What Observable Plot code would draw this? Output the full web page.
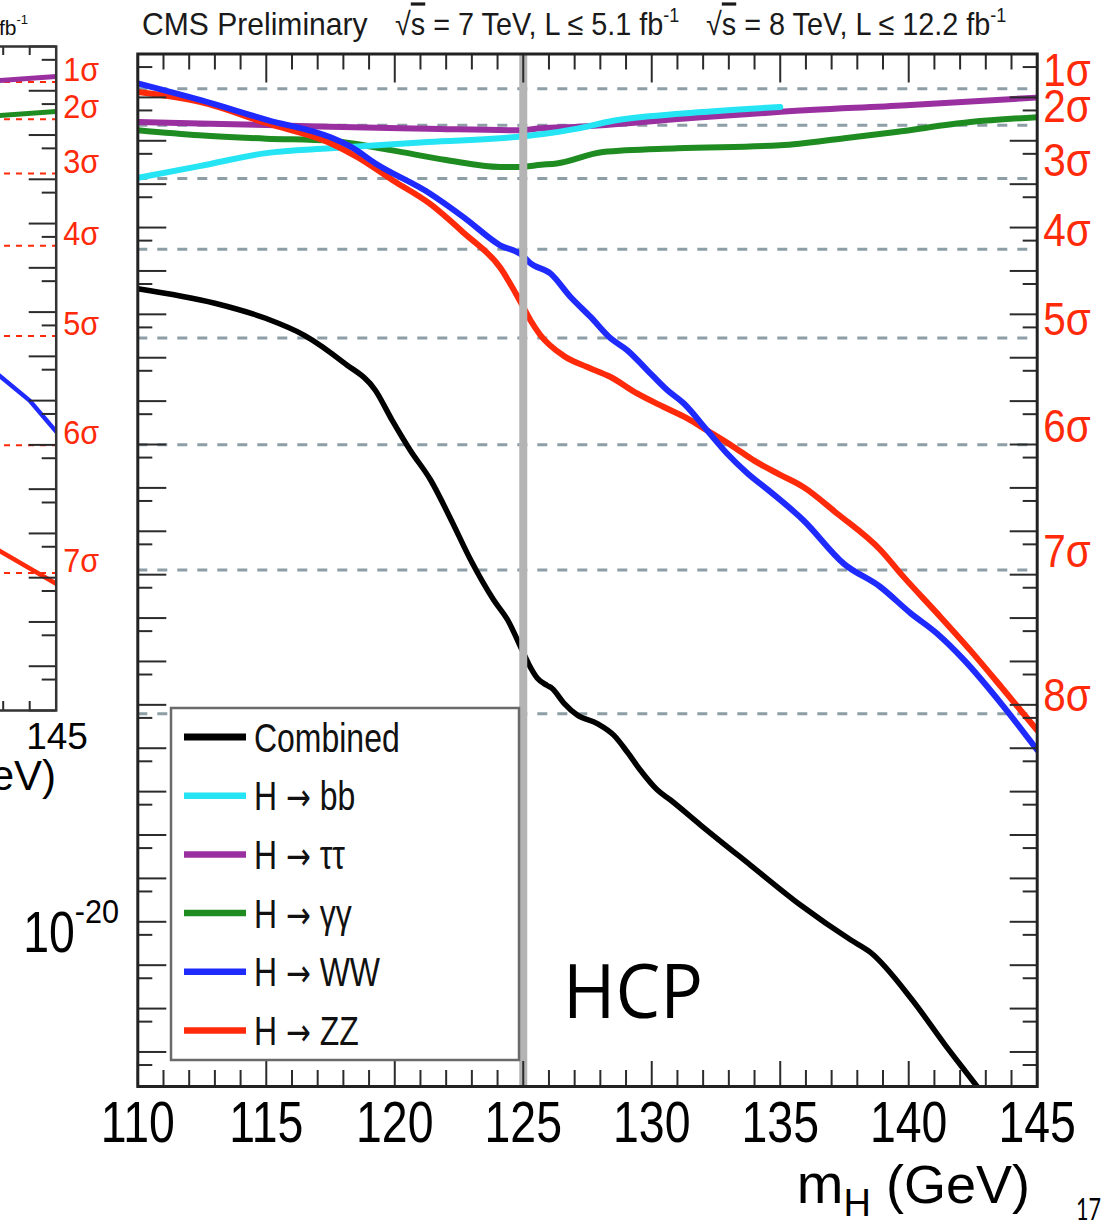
<!DOCTYPE html>
<html><head><meta charset="utf-8">
<script src="https://cdn.jsdelivr.net/npm/d3@7"></script>
<script src="https://cdn.jsdelivr.net/npm/@observablehq/plot@0.6"></script>
<style>
html,body{margin:0;padding:0;background:#fff;overflow:hidden}
#wrap{position:relative;width:1113px;height:1231px;overflow:hidden;background:#fff}
#wrap svg{position:absolute;max-width:none;background:transparent}
</style></head><body><div id="wrap"></div>
<script>
// ---------------- data ----------------
const sigmaNames = ["1σ","2σ","3σ","4σ","5σ","6σ","7σ","8σ"];
const sigmaP = [1.587e-1, 2.275e-2, 1.350e-3, 3.167e-5, 2.867e-7, 9.866e-10, 1.280e-12, 6.221e-16];
const massTicks = [110,115,120,125,130,135,140,145];
const yLabelValue = 1e-20;
const higgsMass = 125;

const seriesNames = ["Combined","H → bb","H → ττ","H → γγ","H → WW","H → ZZ"];
const legendHead = ["Combined","H","H","H","H","H"];
const legendTail = ["","bb","ττ","γγ","WW","ZZ"];
const seriesColors = ["#000000","#25e4f4","#9a2fa0","#1f8c22","#1f2aff","#ff2a0a"];

const massCombined = [110,113,115,116.5,118,119.25,119.9,120.6,121.4,122.2,122.95,123.85,124.4,124.96,125.2,125.55,125.93,126.12,126.58,127.1,127.88,128.52,129.04,129.56,130.21,130.73,131.9,133.85,135.8,137.75,138.5,140.13,141.4,142.66,143.2];
const pCombined = [3.9e-6,1.8e-6,8.0e-7,3.25e-7,7.8e-8,1.76e-8,3.6e-9,7.4e-10,1.5e-10,1.8e-11,2.2e-12,2.6e-13,8.9e-14,1.8e-14,9.0e-15,4.1e-15,2.8e-15,2.4e-15,1.1e-15,5.8e-16,3.7e-16,2.0e-16,8.3e-17,3.1e-17,1.1e-17,6.4e-18,1.7e-18,2.0e-19,2.4e-20,3.8e-21,2.0e-21,1.6e-22,1.5e-23,1.6e-24,6e-25];

const massBB = [110,112.4,115,117.5,118.7,121.3,124.7,125.7,127.1,128.5,131.2,135];
const pBB = [1.4e-3,2.6e-3,5.2e-3,6.7e-3,7.5e-3,9.4e-3,1.22e-2,1.41e-2,1.91e-2,2.9e-2,4.24e-2,6.0e-2];

const massTauTau = [110,112.4,115,117.5,121.3,124.8,125.7,127.1,131.3,134.9,139.9,145];
const pTauTau = [2.7e-2,2.5e-2,2.3e-2,2.1e-2,1.9e-2,1.75e-2,1.94e-2,2.1e-2,3.25e-2,4.6e-2,6.6e-2,9.9e-2];

const massGG = [110,112.4,115,117.5,119.9,122,124.1,124.8,125.7,126.3,128.1,131,135,137.5,139.5,142.4,145];
const pGG = [1.75e-2,1.34e-2,1.12e-2,1.0e-2,6.0e-3,3.6e-3,2.5e-3,2.5e-3,2.8e-3,3.0e-3,5.5e-3,6.7e-3,7.9e-3,1.15e-2,1.6e-2,2.7e-2,3.5e-2];

const massWW = [110,112.45,115.05,117.5,118.3,119.25,121.35,122.7,124.1,124.96,125.28,126.06,126.84,127.62,128.4,129.04,129.82,130.6,131.25,132.16,132.93,133.71,134.62,135.9,137.47,138.9,140.07,141.1,142.14,143.7,145];
const pWW = [0.21,8.6e-2,3.0e-2,1.2e-2,7.2e-3,3.0e-3,6.2e-4,1.7e-4,3.9e-5,2.3e-5,1.5e-5,8.7e-6,2.5e-6,8.7e-7,2.8e-7,1.5e-7,5.2e-8,1.8e-8,8.8e-9,2.1e-9,6.2e-10,2.2e-10,8.1e-11,1.8e-11,1.8e-12,5.2e-13,1.3e-13,4.4e-14,1.1e-14,9.0e-16,9.1e-17];

const massZZ = [110,112.45,115.05,117.5,118.55,119.95,121.35,122.7,124.1,124.9,125.28,125.67,126.58,127.49,128.4,129.43,130.47,131.38,132.16,133.19,133.97,135.0,135.9,137.2,138.9,139.8,141.1,142.4,143.7,145];
const pZZ = [0.133,7.8e-2,2.5e-2,8.8e-3,4.2e-3,1.2e-3,3.6e-4,7.4e-5,1.2e-5,1.9e-6,7.3e-7,3.3e-7,1.1e-7,6.1e-8,3.6e-8,1.5e-8,7.3e-9,4.0e-9,2.1e-9,8.8e-10,4.3e-10,2.0e-10,1.05e-10,2.6e-11,3.7e-12,8.9e-13,1.3e-13,1.8e-14,2.2e-15,2.6e-16];

// neighbouring (cropped) panel on the left edge
const leftMass = [142.6,145];
const leftPTauTau = [0.166,0.21];
const leftPGG = [0.027,0.034];
const leftMassWW = [142.6,144,145];
const leftPWW = [4.9e-8,1.0e-8,2.0e-9];
const leftPZZ = [5.0e-12,7.3e-13];

// ---------------- helpers ----------------
const SANS = "'Liberation Sans', Arial, Helvetica, sans-serif";
const RED = "#ff2a0a";
const rows = (mass, p) => mass.map((m, i) => ({mass: m, p: p[i]}));
const sigmaRows = sigmaNames.map((n, i) => ({name: n, p: sigmaP[i]}));
const yMajor = d3.range(0, 24).map(k => Math.pow(10, -k));
const yMinor = d3.range(1, 25).map(k => 5 * Math.pow(10, -k));
const xMinor = d3.range(110, 146).filter(m => m % 5 !== 0);

function squeeze(svg, test, sx) {
  svg.querySelectorAll("text").forEach(t => {
    if (!test(t.textContent)) return;
    const tr = t.getAttribute("transform");
    if (tr) t.setAttribute("transform", tr + ` scale(${sx},1)`);
    else {
      const x = +(t.getAttribute("x") || 0);
      t.setAttribute("x", 0);
      t.setAttribute("transform", `translate(${x},0) scale(${sx},1)`);
    }
  });
}

// ---------------- main panel ----------------
const W = 1113, H = 1231, ML = 137.3, MR = 76.3, MT = 53.5, MB = 145;
const iW = W - ML - MR, iH = H - MT - MB;
const lineOpts = (color, w = 6) => ({x: "mass", y: "p", stroke: color, strokeWidth: w, curve: "monotone-x", strokeLinejoin: "round", clip: true});
const tickCol = "#2b2b2b";

const main = Plot.plot({
  width: W, height: H,
  marginLeft: ML, marginRight: MR, marginTop: MT, marginBottom: MB,
  style: {background: "transparent", fontFamily: SANS, color: "#000"},
  x: {domain: [110, 145]},
  y: {type: "log", domain: [1.6e-24, 1], axis: null},
  marks: [
    Plot.ruleY(sigmaP, {stroke: "#8d9ea7", strokeWidth: 3, strokeDasharray: "10,10"}),
    Plot.line(rows(massTauTau, pTauTau), lineOpts(seriesColors[2])),
    Plot.line(rows(massGG, pGG), lineOpts(seriesColors[3])),
    Plot.line(rows(massBB, pBB), lineOpts(seriesColors[1])),
    Plot.line(rows(massZZ, pZZ), lineOpts(seriesColors[5])),
    Plot.line(rows(massWW, pWW), lineOpts(seriesColors[4])),
    Plot.line(rows(massCombined, pCombined), lineOpts(seriesColors[0], 5.5)),
    Plot.ruleX([higgsMass], {stroke: "#b4b4b4", strokeWidth: 8}),
    Plot.tickY(yMajor, {stroke: tickCol, strokeWidth: 2, insetRight: iW - 29}),
    Plot.tickY(yMinor, {stroke: tickCol, strokeWidth: 2, insetRight: iW - 15}),
    Plot.tickY(yMajor, {stroke: tickCol, strokeWidth: 2, insetLeft: iW - 27}),
    Plot.tickY(yMinor, {stroke: tickCol, strokeWidth: 2, insetLeft: iW - 14}),
    Plot.tickX(massTicks, {stroke: tickCol, strokeWidth: 2, insetTop: iH - 25}),
    Plot.tickX(xMinor, {stroke: tickCol, strokeWidth: 2, insetTop: iH - 16}),
    Plot.tickX(massTicks, {stroke: tickCol, strokeWidth: 2, insetBottom: iH - 29}),
    Plot.tickX(xMinor, {stroke: tickCol, strokeWidth: 2, insetBottom: iH - 16}),
    Plot.frame({stroke: "#222", strokeWidth: 3}),
    Plot.axisX(massTicks, {tickSize: 0, tickPadding: 14, fontSize: 58, label: null, fill: "#000"}),
    Plot.text([yLabelValue], {y: d => d, frameAnchor: "left", text: () => "10", textAnchor: "end", dx: -63, dy: 12, fontSize: 58, fill: "#000"}),
    Plot.text([yLabelValue], {y: d => d, frameAnchor: "left", text: () => "-20", textAnchor: "start", dx: -63, dy: -10, fontSize: 34, fill: "#000"}),
    Plot.text(sigmaRows, {y: "p", text: "name", frameAnchor: "right", textAnchor: "start", lineAnchor: "bottom", dx: 6, dy: -3, fontSize: 46, fill: RED})
  ]
});
main.style.left = "0px"; main.style.top = "0px";
squeeze(main, s => /^\d+$/.test(s), 0.8);
squeeze(main, s => s === "-20", 0.9);
squeeze(main, s => s.includes("σ"), 0.88);

// ---------------- cropped left panel ----------------
const LW = 330, LH = 760, LMR = 74.3, LMT = 46, LMB = 50;
const liW = LW - LMR, liH = LH - LMT - LMB;
const left = Plot.plot({
  width: LW, height: LH,
  marginLeft: 0, marginRight: LMR, marginTop: LMT, marginBottom: LMB,
  style: {background: "transparent", fontFamily: SANS},
  x: {domain: [135.35, 145], axis: null},
  y: {type: "log", domain: [1e-15, 1], axis: null},
  marks: [
    Plot.ruleY(sigmaP.slice(0, 7), {stroke: RED, strokeWidth: 2, strokeDasharray: "6,6"}),
    Plot.line(rows(leftMass, leftPTauTau), lineOpts(seriesColors[2], 5)),
    Plot.line(rows(leftMass, leftPGG), lineOpts(seriesColors[3], 5)),
    Plot.line(rows(leftMassWW, leftPWW), {...lineOpts(seriesColors[4], 4.5), curve: "linear"}),
    Plot.line(rows(leftMass, leftPZZ), lineOpts(seriesColors[5], 4.5)),
    Plot.tickY(d3.range(0, 16).map(k => Math.pow(10, -k)), {stroke: tickCol, strokeWidth: 2, insetLeft: liW - 27}),
    Plot.tickY(d3.range(1, 16).map(k => 5 * Math.pow(10, -k)), {stroke: tickCol, strokeWidth: 2, insetLeft: liW - 14}),
    Plot.tickX(d3.range(136, 145), {stroke: tickCol, strokeWidth: 2, insetTop: liH - 9}),
    Plot.tickX(d3.range(136, 145), {stroke: tickCol, strokeWidth: 2, insetBottom: liH - 9}),
    Plot.frame({stroke: "#333", strokeWidth: 2.5}),
    Plot.text(sigmaRows.slice(0, 7), {y: "p", text: "name", frameAnchor: "right", textAnchor: "start", lineAnchor: "bottom", dx: 7, dy: -1, fontSize: 34, fill: RED})
  ]
});
left.style.left = "-200px"; left.style.top = "0px";
squeeze(left, s => s.includes("σ"), 0.9);

const wrap = document.getElementById("wrap");
wrap.appendChild(main);
wrap.appendChild(left);

// ---------------- overlay: titles, legend, annotations ----------------
const ov = d3.select(wrap).append("svg").attr("width", W).attr("height", H)
  .style("left", "0px").style("top", "0px").attr("font-family", SANS);

function txt(x, y, parts, {size, anchor = "start", sx = 1, family = SANS, fill = "#111", len = null}) {
  const t = ov.append("text").attr("transform", `translate(${x},${y}) scale(${sx},1)`)
    .attr("font-size", size).attr("text-anchor", anchor).attr("font-family", family).attr("fill", fill);
  if (len) t.attr("textLength", len).attr("lengthAdjust", "spacingAndGlyphs");
  parts.forEach(p => {
    const s = t.append("tspan").text(p.t);
    if (p.size) s.attr("font-size", p.size);
    if (p.dy) s.attr("dy", p.dy);
    if (p.over) s.attr("text-decoration", "overline");
    if (p.family) s.attr("font-family", p.family);
  });
  return t;
}

// header
txt(142, 35, [{t: "CMS Preliminary"}], {size: 32, sx: 0.94, fill: "#1a1a1a"});
txt(395, 35, [{t: "√"}, {t: "s", over: true}, {t: " = 7 TeV, L ≤ 5.1 fb"}, {t: "-1", size: 20, dy: -13}], {size: 32, sx: 0.9, fill: "#1a1a1a"});
txt(706, 35, [{t: "√"}, {t: "s", over: true}, {t: " = 8 TeV, L ≤ 12.2 fb"}, {t: "-1", size: 20, dy: -13}], {size: 32, sx: 0.9, fill: "#1a1a1a"});

// axis title
txt(1030, 1203, [{t: "m"}, {t: "H", size: 38, dy: 13}, {t: " (GeV)", size: 54, dy: -13}], {size: 56, anchor: "end", fill: "#000"});

// legend
const lg = ov.append("g");
lg.append("rect").attr("x", 171).attr("y", 708).attr("width", 348).attr("height", 352)
  .attr("fill", "#fff").attr("stroke", "#6a6a6a").attr("stroke-width", 2.5);
seriesNames.forEach((n, i) => {
  const y = 737 + i * 58.7;
  lg.append("line").attr("x1", 184).attr("x2", 246).attr("y1", y).attr("y2", y)
    .attr("stroke", seriesColors[i]).attr("stroke-width", i === 0 ? 7 : 6.5);
  const parts = legendTail[i] === ""
    ? [{t: legendHead[i]}]
    : [{t: legendHead[i] + " "}, {t: "→", family: "'DejaVu Sans', sans-serif", size: 38}, {t: " " + legendTail[i]}];
  txt(254, y + 14.5, parts, {size: 41, sx: 0.78, fill: "#111"});
});

// slide annotations
txt(563, 1018, [{t: "HCP"}], {size: 75, family: "'Open Sans', Lato, sans-serif", fill: "#000", len: 140});
txt(1076, 1220, [{t: "17"}], {size: 30, family: "Lato, 'Open Sans', sans-serif", fill: "#000", len: 25});

// fragments of the neighbouring panel
txt(-1, 35, [{t: "fb"}, {t: "-1", size: 13, dy: -11}], {size: 21, fill: "#111"});
txt(57, 749, [{t: "145"}], {size: 37, anchor: "middle", fill: "#000"});
txt(56, 790, [{t: "eV)"}], {size: 42, anchor: "end", fill: "#000"});
</script></body></html>
